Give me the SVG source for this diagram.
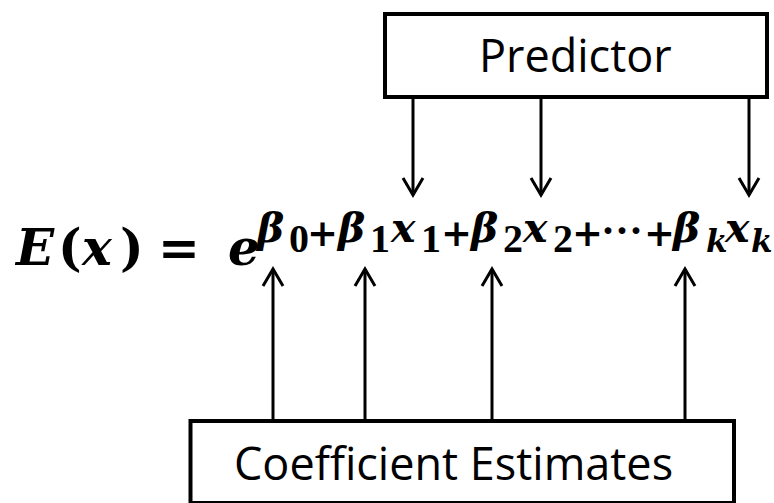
<svg xmlns="http://www.w3.org/2000/svg" width="774" height="503" viewBox="0 0 774 503">
<style>
.box{fill:#fff;stroke:#000;stroke-width:4}
.lbl{font-family:"Open Sans","Liberation Sans",sans-serif;font-size:45px;fill:#000}
.conn line{stroke:#000;stroke-width:3;marker-end:url(#v)}
.m{font-family:"DejaVu Serif","Liberation Serif",serif;font-weight:bold;fill:#000}
.big{font-size:50px}
.sup{font-size:41px}
.sub{font-size:31px}
.i{font-style:italic}
.d{font-family:"Liberation Serif","DejaVu Serif",serif;font-style:normal}
.dg{font-size:40px}
.pl{font-size:37px;font-style:normal}
.dt{font-size:42px}
</style>
<defs>
<marker id="v" viewBox="0 0 24 24" refX="20" refY="12" markerWidth="24" markerHeight="24" markerUnits="userSpaceOnUse" orient="auto">
<path d="M3,2 L20,12 L3,22" fill="none" stroke="#000" stroke-width="3"/>
</marker>
</defs>
<g id="predictor">
<rect class="box" x="385" y="14" width="382" height="83"/>
<text class="lbl" x="479" y="72">Predictor</text>
</g>
<g id="coefficients">
<rect class="box" x="190.5" y="421" width="543.5" height="82"/>
<text class="lbl" x="234" y="480">Coefficient Estimates</text>
</g>
<g id="formula" class="m">
<text class="big" y="265"><tspan class="i" x="16">E</tspan><tspan x="58">(</tspan><tspan class="i" x="82">x</tspan><tspan x="120">)</tspan><tspan x="158">=</tspan><tspan class="i" x="228">e</tspan></text>
<text class="sup" y="242"><tspan class="i" x="257">β</tspan><tspan class="d dg" x="289" y="252">0</tspan><tspan class="pl" x="307" y="246">+</tspan><tspan class="i" x="338" y="242">β</tspan><tspan class="d dg" x="370" y="252">1</tspan><tspan class="i" x="391" y="242">x</tspan><tspan class="d dg" x="421" y="252">1</tspan><tspan class="pl" x="441" y="246">+</tspan><tspan class="i" x="471" y="242">β</tspan><tspan class="d dg" x="503" y="252">2</tspan><tspan class="i" x="523" y="242">x</tspan><tspan class="d dg" x="553" y="252">2</tspan><tspan class="pl" x="572" y="246">+</tspan><tspan class="d dt" x="601" y="245">···</tspan><tspan class="pl" x="644" y="246">+</tspan><tspan class="i" x="673" y="242">β</tspan><tspan class="sub i" x="706" y="252">k</tspan><tspan class="i" x="725" y="242">x</tspan><tspan class="sub i" x="751" y="252">k</tspan></text>
</g>
<g id="connectors" class="conn">
<line x1="413" y1="99" x2="413" y2="195"/>
<line x1="541" y1="99" x2="541" y2="195"/>
<line x1="749" y1="99" x2="749" y2="195"/>
<line x1="273" y1="419" x2="273" y2="269"/>
<line x1="365" y1="419" x2="365" y2="269"/>
<line x1="492" y1="419" x2="492" y2="269"/>
<line x1="685" y1="419" x2="685" y2="269"/>
</g>
</svg>
